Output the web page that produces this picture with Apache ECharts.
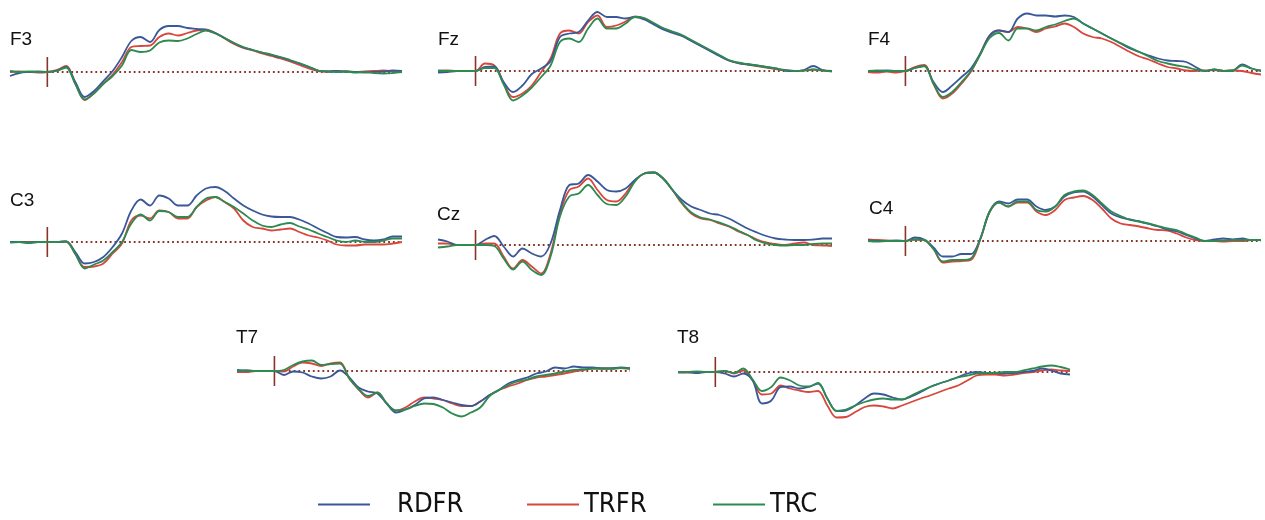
<!DOCTYPE html>
<html><head><meta charset="utf-8">
<script src="https://cdn.jsdelivr.net/npm/echarts@6/dist/echarts.min.js"></script>
<style>html,body{margin:0;padding:0;background:#fff}#c{width:1265px;height:520px}</style>
</head><body><div id="c"></div>
<script>
// time axis (ms), one sample every 25 ms
const times = [-100,-75,-50,-25,0,25,50,75,100,125,150,175,200,225,250,275,300,325,350,375,400,425,450,475,500,525,550,575,600,625,650,675,700,725,750,775,800,825,850,875,900,925,950];
const seriesNames = ['RDFR','TRFR','TRC'];
const seriesColors = ['#3a5898','#d8463c','#2e8a50'];
const channels = ['F3','Fz','F4','C3','Cz','C4','T7','T8'];

// amplitudes (µV)
const F3_RDFR = [-0.8,-0.2,0,0.1,0,0.3,1.0,-2.0,-5.0,-3.8,-1.8,0.2,3.0,6.2,7.0,6.0,8.4,9.2,9.2,8.8,8.6,8.4,7.8,6.8,5.8,4.9,4.4,3.9,3.4,2.9,2.3,1.7,1.0,0.3,0.1,0.2,0.1,0,-0.1,0,0.1,0.3,0.2];
const F3_TRFR = [0,0.1,0,-0.1,0,0.4,1.2,-2.3,-5.6,-4.2,-2.3,-0.5,2.0,5.0,5.2,5.3,7.0,7.7,7.3,7.8,8.3,8.5,7.8,6.7,5.6,4.8,4.3,3.7,3.2,2.7,2.1,1.4,0.7,0.2,0.1,0.2,0.1,0,0.1,0.2,0.3,0.2,0.1];
const F3_TRC  = [0.2,0,0.1,0,0,0.2,0.9,-2.4,-5.5,-4.3,-2.4,-0.8,1.3,4.4,4.0,4.3,5.9,6.3,6.2,6.7,7.6,8.3,7.7,6.8,5.8,5.0,4.4,3.9,3.5,3.0,2.4,1.8,1.1,0.3,0.1,0,0.1,-0.1,0,-0.2,-0.3,-0.2,0];

const Fz_RDFR = [-0.3,-0.2,0,0,0,0.8,0.9,-2.2,-4.2,-2.9,-0.6,0.5,2.0,6.8,7.5,7.8,10.1,11.8,10.8,10.8,10.5,10.8,10.3,9.3,8.3,7.6,7.0,6.0,5.0,4.0,3.0,2.1,1.6,1.3,1.1,0.8,0.5,0.1,0,0.2,1.0,0.2,0];
const Fz_TRFR = [0,0.1,0,0,0,1.5,1.1,-2.5,-5.2,-4.5,-2.9,-0.2,2.5,7.5,8.1,7.5,9.8,11.1,8.8,9.1,9.9,10.9,10.5,9.5,8.5,7.8,7.1,6.1,5.1,4.1,3.1,2.1,1.6,1.3,1.0,0.7,0.4,0.1,0,0.1,0.3,0.1,0];
const Fz_TRC  = [0.1,0,0,0,0,0.6,0.6,-2.7,-5.9,-4.9,-3.3,-1.2,1.1,5.8,6.5,5.8,8.5,10.5,8.5,8.5,9.5,10.8,10.6,9.6,8.6,7.9,7.2,6.2,5.2,4.2,3.2,2.2,1.7,1.4,1.1,0.8,0.5,0.2,0,0.1,0.3,0.1,-0.1];

const F4_RDFR = [0,0,0.1,0,0,0.6,1.0,-2.2,-4.2,-2.9,-1.2,0.5,3.5,7.1,8.1,7.8,10.5,11.5,11.1,11.1,10.9,11.1,10.8,9.5,8.5,7.5,6.5,5.5,4.5,3.8,3.1,2.5,2.1,2.0,1.8,0.8,0,0.3,0,0.1,1.3,0.5,0];
const F4_TRFR = [-0.2,-0.3,-0.1,-0.3,0,0.8,1.2,-2.6,-5.5,-4.5,-2.5,-0.1,3.4,7.1,8.1,7.8,8.8,8.5,7.8,8.5,8.9,9.5,8.8,7.5,6.8,6.5,5.8,4.8,3.8,2.9,2.3,1.5,0.8,0.5,0.1,0,0.1,0.2,0,0.1,0,-0.4,-0.7];
const F4_TRC  = [0,0.1,0,0,0,0.6,1.0,-2.5,-5.2,-4.2,-2.2,0,3.3,6.6,7.6,6.1,8.5,8.5,8.1,8.8,9.3,10.0,10.5,9.5,8.5,7.5,6.5,5.6,4.7,3.8,2.9,2.0,1.5,1.1,0.8,0.3,0,0.3,0,0.1,1.1,0.5,0.1];

const C3_RDFR = [0,0,-0.1,0,0,0,0.1,-2.0,-4.3,-4.0,-3.0,-1.0,1.7,6.3,8.5,7.3,9.3,8.7,7.3,7.3,9.3,10.7,11.0,10.2,8.7,7.3,6.3,5.5,5.1,5.0,5.0,4.5,3.7,2.7,1.8,1.0,0.9,1.0,0.5,0.3,0.5,1.1,1.1];
const C3_TRFR = [0,0,0,0,0,0,0.1,-2.4,-5.0,-4.9,-4.3,-2.3,-0.3,4.3,5.3,4.7,6.3,6.0,4.7,4.7,7.0,8.3,9.0,8.0,6.7,4.3,3.0,2.7,2.3,2.5,2.7,2.0,1.3,0.9,0.3,-0.5,-0.7,-0.7,-0.5,-0.5,-0.5,-0.3,0];
const C3_TRC  = [-0.1,0,-0.2,0,0,0,0.1,-2.4,-5.3,-4.5,-3.7,-2.0,0,3.7,5.5,4.3,6.2,6.0,5.0,5.0,7.0,8.7,9.0,8.0,7.0,5.7,4.3,3.3,3.0,3.5,3.8,3.1,2.5,1.7,1.0,0.3,0,0.3,0,0,0.3,0.7,0.7];

const Cz_RDFR = [1.1,0.7,0,0,0,1.0,1.8,-0.3,-2.3,-0.7,-1.7,-2.3,0.3,7.0,12.0,12.3,14.0,12.7,11.0,10.7,11.3,13.0,14.3,14.5,13.3,11.0,9.0,7.7,7.0,6.3,6.0,5.3,4.3,3.3,2.5,1.8,1.3,1.1,1.0,1.0,1.1,1.3,1.3];
const Cz_TRFR = [0.3,0.3,0,0,0,0.3,0.3,-2.3,-4.7,-3.0,-4.3,-5.7,-1.7,6.3,11.0,11.7,13.3,11.0,9.0,8.7,10.3,13.0,14.3,14.5,13.3,11.0,8.3,6.3,5.3,5.0,4.3,3.7,2.7,2.0,1.1,0.5,0.2,0,0.3,0.5,0,-0.1,-0.2];
const Cz_TRC  = [-0.5,-0.3,0,0,0,0,-0.2,-2.7,-4.9,-3.3,-5.0,-6.0,-2.3,5.7,9.7,10.3,12.0,10.0,8.2,8.0,9.7,12.7,14.3,14.5,13.3,11.0,8.5,6.5,5.5,5.1,4.5,3.8,2.9,2.0,0.9,0.3,0,-0.1,0,0,0.2,0.3,0.3];

const C4_RDFR = [0.1,0,0,0.1,0,0.7,0.3,-1.3,-3.1,-3.1,-2.6,-2.6,0.5,5.9,7.9,7.5,8.3,8.3,6.9,6.2,6.9,8.9,9.7,9.9,8.9,7.2,5.5,4.7,4.3,3.9,3.4,2.9,2.3,1.9,1.2,0.5,0,0.3,0.5,0.3,0.5,0.2,0.2];
const C4_TRFR = [0.3,0.2,0.1,0,0,0.3,0.2,-1.6,-4.3,-4.1,-4.0,-3.8,0.3,5.8,7.7,6.9,7.7,7.7,5.9,5.2,6.2,8.2,8.7,9.0,8.2,6.5,4.5,3.5,3.2,2.9,2.5,2.2,2.1,1.5,0.7,0.2,0,0,-0.1,0,0,0.2,0.2];
const C4_TRC  = [0,-0.1,0,0,0,0.3,0.2,-1.6,-4.1,-3.8,-3.8,-3.5,0.4,5.9,7.7,6.9,7.9,7.9,6.2,5.9,6.9,9.2,9.9,10.1,9.2,7.5,5.9,5.0,4.2,3.9,3.5,3.0,2.5,2.2,1.4,0.7,0,0,0.1,0.2,0.2,0.2,0.2];

const T7_RDFR = [0.2,0.1,0,0,0,-0.8,-0.1,-0.3,-1.1,-1.5,-1.1,0.1,-1.3,-3.3,-4.1,-4.5,-6.5,-8.3,-7.7,-6.8,-5.5,-5.3,-5.8,-6.3,-6.8,-7.0,-6.1,-4.8,-3.8,-2.5,-1.8,-1.3,-0.5,-0.1,0.7,0.5,0.9,0.7,0.7,0.5,0.5,0.7,0.5];
const T7_TRFR = [-0.2,-0.2,0,0,0,-0.1,0.9,1.7,1.5,1.0,1.5,1.7,-1.5,-3.7,-5.3,-4.3,-6.5,-7.9,-7.3,-6.1,-5.3,-5.5,-5.8,-6.5,-7.0,-7.0,-6.1,-4.8,-3.8,-3.1,-2.5,-1.8,-1.3,-1.1,-0.8,-0.5,-0.1,0.2,0.5,0.5,0.5,0.6,0.5];
const T7_TRC  = [0,0.1,0,0,0,0.2,1.2,1.9,2.1,1.2,1.4,1.5,-1.5,-3.6,-5.0,-4.3,-6.5,-7.9,-7.7,-7.0,-6.5,-6.6,-7.3,-8.5,-9.1,-8.3,-7.3,-5.0,-3.8,-2.8,-2.1,-1.7,-1.1,-0.8,-0.5,-0.1,0.2,0.3,0.5,0.5,0.5,0.6,0.5];

const T8_RDFR = [-0.1,0,-0.2,0,0,-0.3,-0.9,-0.3,-1.7,-6.3,-5.7,-3.0,-2.9,-3.3,-3.0,-2.3,-5.3,-7.8,-7.7,-6.7,-5.3,-4.3,-4.5,-5.1,-5.5,-4.9,-4.0,-3.0,-2.3,-1.7,-1.0,-0.3,0,-0.2,-0.2,-0.3,-0.2,0,0.2,0.7,0.3,-0.3,-0.5];
const T8_TRFR = [0,-0.1,0,0,0,0.2,-0.3,0.3,-1.7,-4.5,-4.3,-2.7,-3.3,-3.7,-4.0,-3.8,-6.7,-9.1,-9.0,-8.0,-7.0,-6.7,-6.9,-7.3,-6.7,-6.0,-5.3,-4.7,-4.0,-3.3,-2.7,-1.7,-0.7,-0.5,-0.5,-0.7,-0.5,-0.2,0,0.3,0.5,0.3,0.2];
const T8_TRC  = [0,0,0.1,0,0,0.2,-0.2,0.7,-1.5,-3.8,-3.0,-1.1,-1.7,-2.7,-2.9,-2.2,-5.3,-7.8,-7.5,-6.7,-6.0,-5.5,-5.3,-5.5,-5.5,-4.7,-3.8,-3.0,-2.3,-1.7,-1.1,-0.7,-0.3,-0.2,-0.2,0,0,0.3,0.7,1.1,1.3,1.0,0.5];

const channelData = {
  F3:[F3_RDFR,F3_TRFR,F3_TRC], Fz:[Fz_RDFR,Fz_TRFR,Fz_TRC], F4:[F4_RDFR,F4_TRFR,F4_TRC],
  C3:[C3_RDFR,C3_TRFR,C3_TRC], Cz:[Cz_RDFR,Cz_TRFR,Cz_TRC], C4:[C4_RDFR,C4_TRFR,C4_TRC],
  T7:[T7_RDFR,T7_TRFR,T7_TRC], T8:[T8_RDFR,T8_TRFR,T8_TRC]
};
const onsetTick = [-3, 3];   // extent of the stimulus-onset marker (µV)
const baselineSpan = [0, 950];

// panel layout (pixels) and amplitude range
const layout = {
  F3:{left:10, width:392, top:2,   height:120, min:-10, max:14, lx:10,  ly:30},
  Fz:{left:438,width:394, top:1,   height:120, min:-10, max:14, lx:438, ly:30},
  F4:{left:868,width:393, top:1,   height:120, min:-10, max:14, lx:868, ly:30},
  C3:{left:10, width:392, top:162, height:130, min:-10, max:16, lx:10,  ly:191},
  Cz:{left:438,width:394, top:165, height:130, min:-10, max:16, lx:437, ly:205},
  C4:{left:868,width:393, top:161, height:130, min:-10, max:16, lx:869, ly:199},
  T7:{left:237,width:393, top:341, height:90,  min:-12, max:6,  lx:236, ly:328},
  T8:{left:678,width:392, top:342, height:90,  min:-12, max:6,  lx:677, ly:328}
};

const grid=[], xAxis=[], yAxis=[], series=[], title=[];
const markColor = '#8a3428';
channels.forEach((ch, gi) => {
  const L = layout[ch];
  grid.push({left:L.left, top:L.top, width:L.width, height:L.height, containLabel:false});
  xAxis.push({type:'value', gridIndex:gi, min:times[0], max:times[times.length-1], show:false});
  yAxis.push({type:'value', gridIndex:gi, min:L.min, max:L.max, show:false});
  title.push({text:ch, left:L.lx, top:L.ly, padding:0,
    textStyle:{fontSize:19, fontWeight:'normal', color:'#111', fontFamily:"'Liberation Sans', Arial, sans-serif"}});
  series.push({type:'line', xAxisIndex:gi, yAxisIndex:gi, silent:true, showSymbol:false, z:1,
    data:[[baselineSpan[0],0],[baselineSpan[1],0]],
    lineStyle:{color:markColor, width:1.8, type:[1.8,3]}});
  series.push({type:'line', xAxisIndex:gi, yAxisIndex:gi, silent:true, showSymbol:false, z:1,
    data:[[0,onsetTick[0]],[0,onsetTick[1]]],
    lineStyle:{color:markColor, width:1.6}});
  channelData[ch].forEach((arr, k) => {
    series.push({type:'line', name:seriesNames[k], xAxisIndex:gi, yAxisIndex:gi, showSymbol:false,
      smooth:0.35, z:2+(k===1?0:k===0?1:2),
      data:times.map((t,i)=>[t,arr[i]]), color:seriesColors[k],
      lineStyle:{color:seriesColors[k], width:1.8}});
  });
});

const legendFont = "'Liberation Sans Narrow', 'DejaVu Sans Condensed', sans-serif";
const legendPos = [{left:318, pad:22},{left:527, pad:0},{left:713, pad:0}];
const legend = seriesNames.map((n,k)=>({
  data:[n], left:legendPos[k].left, top:491, padding:0, itemWidth:52, itemHeight:2, icon:'rect',
  selectedMode:false,
  textStyle:{fontSize:27, color:'#111', fontFamily:legendFont, padding:[0,0,0,legendPos[k].pad]}
}));

const chart = echarts.init(document.getElementById('c'), null, {renderer:'canvas'});
chart.setOption({animation:false, backgroundColor:'#fff', title, grid, xAxis, yAxis, series, legend});
</script></body></html>
